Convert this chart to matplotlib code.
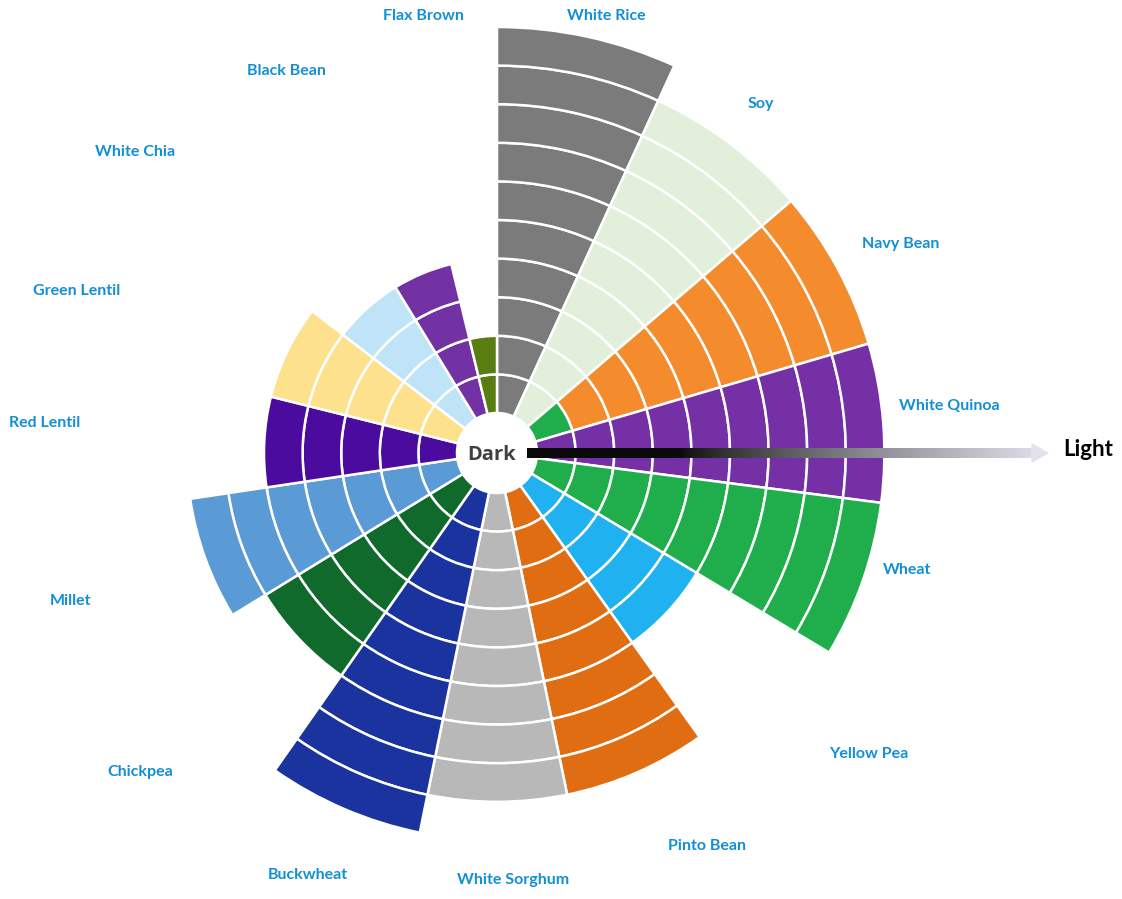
import numpy as np
import matplotlib
matplotlib.use("Agg")
import matplotlib.pyplot as plt
from matplotlib.patches import Polygon

# categories clockwise from 12 o'clock
categories = ["White Rice", "Soy", "Navy Bean", "White Quinoa", "Wheat",
              "Yellow Pea", "Pinto Bean", "White Sorghum", "Buckwheat",
              "Chickpea", "Millet", "Red Lentil", "Green Lentil",
              "White Chia", "Black Bean", "Flax Brown"]
# colour levels covered by each grain (1 = darkest ring)
first_level = [1, 1, 2, 1, 1, 1, 1, 1, 1, 1, 1, 1, 1, 1, 1, 1]
last_level = [10, 9, 9, 9, 9, 5, 8, 8, 9, 6, 7, 5, 5, 4, 4, 2]
# angular width of each sector (degrees)
spans = [24.6, 24.8, 24.2, 23.8, 23.6, 23.5, 23.9, 23.1,
         23.5, 23.5, 23.0, 22.5, 23.5, 21.0, 17.9, 13.6]
colors = ["#7b7b7b", "#e2efda", "#f48b2c", "#7630a6", "#1fae4b",
          "#1fb1f0", "#e06d12", "#b8b8b8", "#1a339e", "#0f6a2c",
          "#5b9bd5", "#4a0b9e", "#fde18c", "#bfe3f7", "#7232a3", "#5a7d12"]
# odd single cell: darkest level inside the Navy Bean sector
extra_cat, extra_level, extra_color = "Navy Bean", 1, "#1fae4b"

# label positions in image pixels (x, y)
label_xy = [(606, 16), (761, 104), (901, 244), (949, 406), (907, 570),
            (869, 754), (707, 846), (513, 880), (308, 875), (140, 772),
            (71, 601), (45, 423), (77, 291), (135, 152), (286, 71), (423, 16)]

W, H = 1122, 899
cx, cy = 497, 453
r0, ring = 40, 38.6
R = 450

fig = plt.figure(figsize=(W / 100, H / 100), dpi=100)
ax = fig.add_axes([(cx - R) / W, (H - cy - R) / H, 2 * R / W, 2 * R / H],
                  projection="polar")
ax.set_theta_zero_location("N")
ax.set_theta_direction(-1)
ax.set_ylim(0, R)
ax.axis("off")

starts = np.concatenate([[0], np.cumsum(spans)[:-1]])
for cat, s, w, a, b, c in zip(categories, starts, spans, first_level, last_level, colors):
    theta = np.deg2rad(s + w / 2)
    for lev in range(a, b + 1):
        ax.bar(theta, ring, width=np.deg2rad(w), bottom=r0 + (lev - 1) * ring,
               color=c, edgecolor="white", linewidth=1.8)
    if cat == extra_cat:
        ax.bar(theta, ring, width=np.deg2rad(w), bottom=r0 + (extra_level - 1) * ring,
               color=extra_color, edgecolor="white", linewidth=1.8)

# overlay in pixel coordinates for labels and the arrow
ov = fig.add_axes([0, 0, 1, 1])
ov.patch.set_visible(False)

for name, (x, y) in zip(categories, label_xy):
    ov.text(x, y, name, color="#138fd6", fontsize=11.5, fontweight="bold",
            family=["Lato", "DejaVu Sans"], ha="center", va="center")

# dark -> light gradient arrow
n = 256
t = np.linspace(0, 1, n)
shade = np.clip((t - 0.3) / 0.7, 0, 1) ** 0.8
grad = np.zeros((1, n, 4))
grad[0, :, 0] = 0.04 + 0.82 * shade
grad[0, :, 1] = 0.04 + 0.82 * shade
grad[0, :, 2] = 0.04 + 0.87 * shade
grad[0, :, 3] = 1
ov.imshow(grad, extent=(527, 1034, cy + 5, cy - 5), aspect="auto", zorder=3)
ov.add_patch(Polygon([(1032, cy - 9), (1048, cy), (1032, cy + 9)],
                     closed=True, color="#e2e2ec", zorder=3))
ov.set_xlim(0, W)
ov.set_ylim(H, 0)
ov.axis("off")

ov.text(492, 455, "Dark", color="#404040", fontsize=14.5, fontweight="bold",
        family=["Open Sans", "DejaVu Sans"], ha="center", va="center", zorder=4)
ov.text(1088, 449, "Light", color="black", fontsize=16, fontweight="bold",
        family=["Lato", "DejaVu Sans"], ha="center", va="center", zorder=4)

fig.savefig("out.png", dpi=100, facecolor="white")
